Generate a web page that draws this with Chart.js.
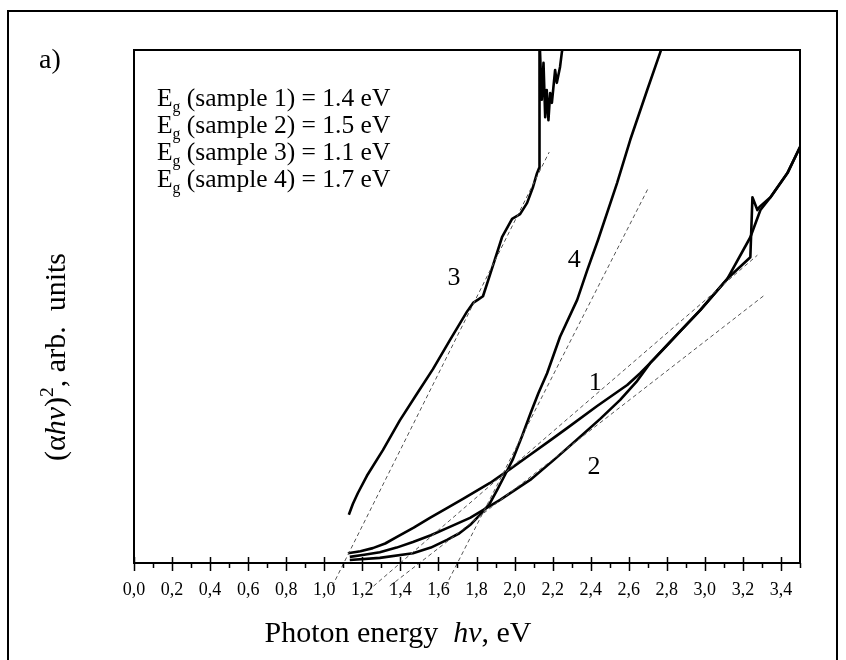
<!DOCTYPE html>
<html lang="en">
<head>
<meta charset="UTF-8">
<title>Tauc plot, samples 1-4</title>
<script src="https://cdn.jsdelivr.net/npm/chart.js"></script>
<style>
  body { margin: 0; background: #fff; font-family: "Liberation Serif", "Times New Roman", serif; }
  #wrap { position: relative; width: 846px; height: 660px; overflow: hidden; }
  #frame { position: absolute; left: 7px; top: 10px; width: 827px; height: 700px; border: 2px solid #000; }
  canvas { position: absolute; left: 0; top: 0; }
  .txt { position: absolute; color: #000; white-space: nowrap; line-height: 1; }
  #panel { left: 39px; top: 45px; font-size: 28px; }
  #eg { left: 157px; top: 84px; font-size: 25.5px; line-height: 27px; }
  #eg sub { font-size: 0.62em; vertical-align: -0.35em; line-height: 0; }
  #xtitle { left: 398px; top: 617px; font-size: 30px; transform: translateX(-50%); }
  #ytitle { left: 55px; top: 357px; font-size: 30px; transform: translate(-50%, -50%) rotate(-90deg); }
  #ytitle sup { font-size: 0.65em; vertical-align: 0.6em; line-height: 0; }
</style>
</head>
<body>
<div id="wrap">
  <div id="frame"></div>
  <canvas id="tauc" width="846" height="660"></canvas>
  <div class="txt" id="panel">a)</div>
  <div class="txt" id="eg">
    E<sub>g</sub> (sample 1) = 1.4 eV<br>
    E<sub>g</sub> (sample 2) = 1.5 eV<br>
    E<sub>g</sub> (sample 3) = 1.1 eV<br>
    E<sub>g</sub> (sample 4) = 1.7 eV
  </div>
  <div class="txt" id="xtitle">Photon energy&nbsp; <i>hν</i>, eV</div>
  <div class="txt" id="ytitle">(α<i>hν</i>)<sup>2</sup>, arb.&nbsp; units</div>
</div>

<script>
// measured curves, photon energy (eV) vs (ahv)^2 in arb. units
const sample1Energy = [1.124, 1.190, 1.255, 1.320, 1.382, 1.470, 1.555, 1.640, 1.729, 1.871, 1.976, 2.082, 2.180, 2.276, 2.434, 2.592, 2.660, 2.729, 2.800, 2.871, 2.976, 3.118, 3.239, 3.250, 3.276, 3.287, 3.345, 3.434, 3.5];
const sample1Value  = [0.19, 0.23, 0.29, 0.38, 0.51, 0.69, 0.88, 1.06, 1.25, 1.56, 1.83, 2.11, 2.37, 2.63, 3.06, 3.47, 3.70, 3.96, 4.24, 4.52, 4.93, 5.54, 5.96, 7.13, 6.88, 6.94, 7.13, 7.60, 8.11];

const sample2Energy = [1.134, 1.210, 1.292, 1.380, 1.466, 1.560, 1.645, 1.766, 1.924, 2.082, 2.210, 2.345, 2.450, 2.555, 2.640, 2.713, 2.803, 2.871, 2.976, 3.118, 3.239, 3.292, 3.345, 3.434, 3.5];
const sample2Value  = [0.12, 0.16, 0.21, 0.30, 0.41, 0.54, 0.68, 0.88, 1.23, 1.62, 2.02, 2.46, 2.81, 3.18, 3.53, 3.90, 4.25, 4.52, 4.93, 5.54, 6.35, 6.88, 7.13, 7.60, 8.11];

const sample3Energy = [1.129, 1.150, 1.176, 1.224, 1.308, 1.397, 1.487, 1.571, 1.661, 1.750, 1.782, 1.810, 1.834, 1.871, 1.934, 1.987, 2.029, 2.066, 2.097, 2.118, 2.129, 2.131, 2.134, 2.143, 2.152, 2.161, 2.169, 2.178, 2.187, 2.196, 2.213, 2.222, 2.239, 2.248, 2.255];
const sample3Value  = [0.94, 1.15, 1.36, 1.70, 2.20, 2.78, 3.30, 3.78, 4.35, 4.90, 5.07, 5.14, 5.20, 5.62, 6.35, 6.71, 6.80, 7.02, 7.33, 7.60, 7.70, 10.3, 9.94, 9.03, 9.75, 8.69, 9.22, 8.63, 9.16, 8.97, 9.61, 9.36, 9.67, 9.94, 10.1];

const sample4Energy = [1.134, 1.292, 1.466, 1.560, 1.645, 1.710, 1.766, 1.818, 1.870, 1.908, 1.950, 1.992, 2.040, 2.082, 2.125, 2.171, 2.239, 2.329, 2.382, 2.439, 2.539, 2.608, 2.697, 2.766, 2.78];
const sample4Value  = [0.06, 0.10, 0.19, 0.30, 0.45, 0.58, 0.74, 0.94, 1.16, 1.42, 1.72, 2.03, 2.48, 2.90, 3.31, 3.70, 4.41, 5.13, 5.71, 6.30, 7.41, 8.25, 9.22, 9.96, 10.1];

// linear fits (dashed), start and end points
const fit1Energy = [1.259, 3.276];
const fit1Value  = [-0.45, 6.00];
const fit2Energy = [1.344, 3.313];
const fit2Value  = [-0.45, 5.22];
const fit3Energy = [1.042, 2.182];
const fit3Value  = [-0.45, 8.01];
const fit4Energy = [1.638, 2.703];
const fit4Value  = [-0.45, 7.31];

// curve numbers
const curveLabels = ['1', '2', '3', '4'];
const curveLabelX = [2.424, 2.418, 1.682, 2.313];
const curveLabelY = [3.51, 1.87, 5.56, 5.91];

// x axis
const xTickValues = [0, 0.2, 0.4, 0.6, 0.8, 1.0, 1.2, 1.4, 1.6, 1.8, 2.0, 2.2, 2.4, 2.6, 2.8, 3.0, 3.2, 3.4];
const xMinorTicks = [0.1, 0.3, 0.5, 0.7, 0.9, 1.1, 1.3, 1.5, 1.7, 1.9, 2.1, 2.3, 2.5, 2.7, 2.9, 3.1, 3.3, 3.5];

function pts(xs, ys) {
    return xs.map((x, i) => ({ x: x, y: ys[i] }));
}

function curve(xs, ys) {
    return { data: pts(xs, ys), showLine: true, borderColor: '#000', borderWidth: 2.6,
             pointRadius: 0, tension: 0, borderJoinStyle: 'round' };
}

function fitLine(xs, ys) {
    return { data: pts(xs, ys), showLine: true, borderColor: '#555', borderWidth: 1,
             borderDash: [4, 3], pointRadius: 0, tension: 0, clip: false };
}

// plot box, tick marks and curve numbers
const decorations = {
    id: 'decorations',
    afterDatasetsDraw(chart) {
        const ctx = chart.ctx;
        const a = chart.chartArea;
        const xs = chart.scales.x;
        const ys = chart.scales.y;
        ctx.save();
        ctx.strokeStyle = '#000';
        ctx.lineWidth = 2;
        ctx.strokeRect(a.left, a.top, a.right - a.left, a.bottom - a.top);

        ctx.lineWidth = 1.5;
        ctx.beginPath();
        xTickValues.forEach(v => {
            const px = Math.round(xs.getPixelForValue(v)) + 0.5;
            ctx.moveTo(px, a.bottom - 6);
            ctx.lineTo(px, a.bottom + 8);
        });
        xMinorTicks.forEach(v => {
            const px = Math.round(xs.getPixelForValue(v)) + 0.5;
            ctx.moveTo(px, a.bottom);
            ctx.lineTo(px, a.bottom + 5);
        });
        ctx.stroke();

        ctx.fillStyle = '#000';
        ctx.font = '26px "Liberation Serif", serif';
        ctx.textAlign = 'center';
        ctx.textBaseline = 'middle';
        curveLabels.forEach((t, i) => {
            ctx.fillText(t, xs.getPixelForValue(curveLabelX[i]), ys.getPixelForValue(curveLabelY[i]));
        });
        ctx.restore();
    }
};

Chart.defaults.font.family = '"Liberation Serif", "Times New Roman", serif';
Chart.defaults.color = '#000';

new Chart(document.getElementById('tauc'), {
    type: 'scatter',
    data: {
        datasets: [
            fitLine(fit1Energy, fit1Value),
            fitLine(fit2Energy, fit2Value),
            fitLine(fit3Energy, fit3Value),
            fitLine(fit4Energy, fit4Value),
            curve(sample1Energy, sample1Value),
            curve(sample2Energy, sample2Value),
            curve(sample3Energy, sample3Value),
            curve(sample4Energy, sample4Value)
        ]
    },
    options: {
        responsive: false,
        animation: false,
        devicePixelRatio: 1,
        layout: { padding: { left: 134, right: 46, top: 50, bottom: 0 } },
        plugins: { legend: { display: false }, tooltip: { enabled: false } },
        scales: {
            x: {
                type: 'linear',
                min: 0,
                max: 3.5,
                grid: { display: false },
                border: { display: false },
                afterBuildTicks: s => { s.ticks = xTickValues.map(v => ({ value: v })); },
                afterFit: s => { s.height = 97; },
                ticks: {
                    padding: 8,
                    maxRotation: 0,
                    autoSkip: false,
                    font: { size: 18 },
                    callback: v => v.toFixed(1).replace('.', ',')
                }
            },
            y: {
                type: 'linear',
                display: false,
                min: 0,
                max: 10
            }
        }
    },
    plugins: [decorations]
});
</script>
</body>
</html>
